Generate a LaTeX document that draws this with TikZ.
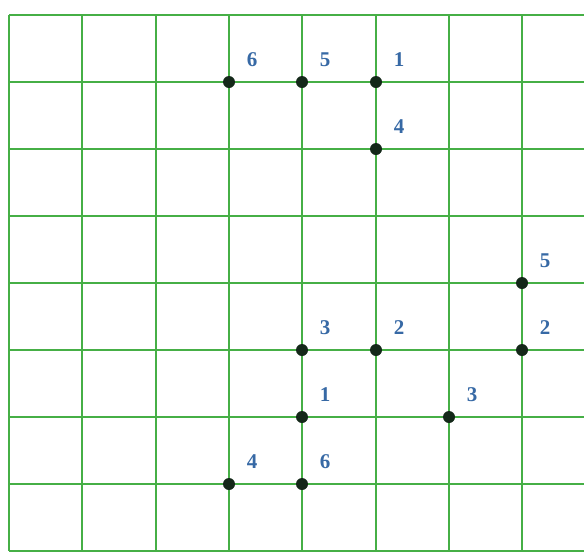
\documentclass[tikz,border=0pt]{standalone}
\usepackage{fontspec}
\setmainfont{Liberation Serif}
\definecolor{gridgreen}{RGB}{70,175,70}
\definecolor{lblue}{RGB}{55,105,165}
\definecolor{dotc}{RGB}{20,40,25}
\begin{document}
\begin{tikzpicture}[x=1pt,y=-1pt,
  gline/.style={draw=gridgreen,line width=2.2pt},
  pt/.style={circle,fill=dotc,inner sep=0pt,minimum size=12pt},
  lbl/.style={text=lblue,font=\bfseries\fontsize{21}{21}\selectfont,anchor=center}]
\useasboundingbox (0,0) rectangle (584,555);
\def\cx#1{round(9+73.3*#1)}
\def\ry#1{15+67*#1}
% horizontal lines
\foreach \j in {0,...,8} \draw[gline] (9,{\ry{\j}}) -- (584,{\ry{\j}});
% vertical lines
\foreach \i in {0,...,7} \draw[gline] ({\cx{\i}},15) -- ({\cx{\i}},551);
% dots with labels
\foreach \i/\j/\t/\n in {3/1/6/a,4/1/5/b,5/1/1/c,5/2/4/d,7/4/5/e,7/5/2/f,4/5/3/g,5/5/2/h,6/6/3/k,4/6/1/m,3/7/4/p,4/7/6/q}{
  \node[pt] (\n) at ({\cx{\i}},{\ry{\j}}) {};
  \node[lbl] (\n l) at ([xshift=23pt,yshift=22pt]\n.center) {\t};
}
\end{tikzpicture}
\end{document}
